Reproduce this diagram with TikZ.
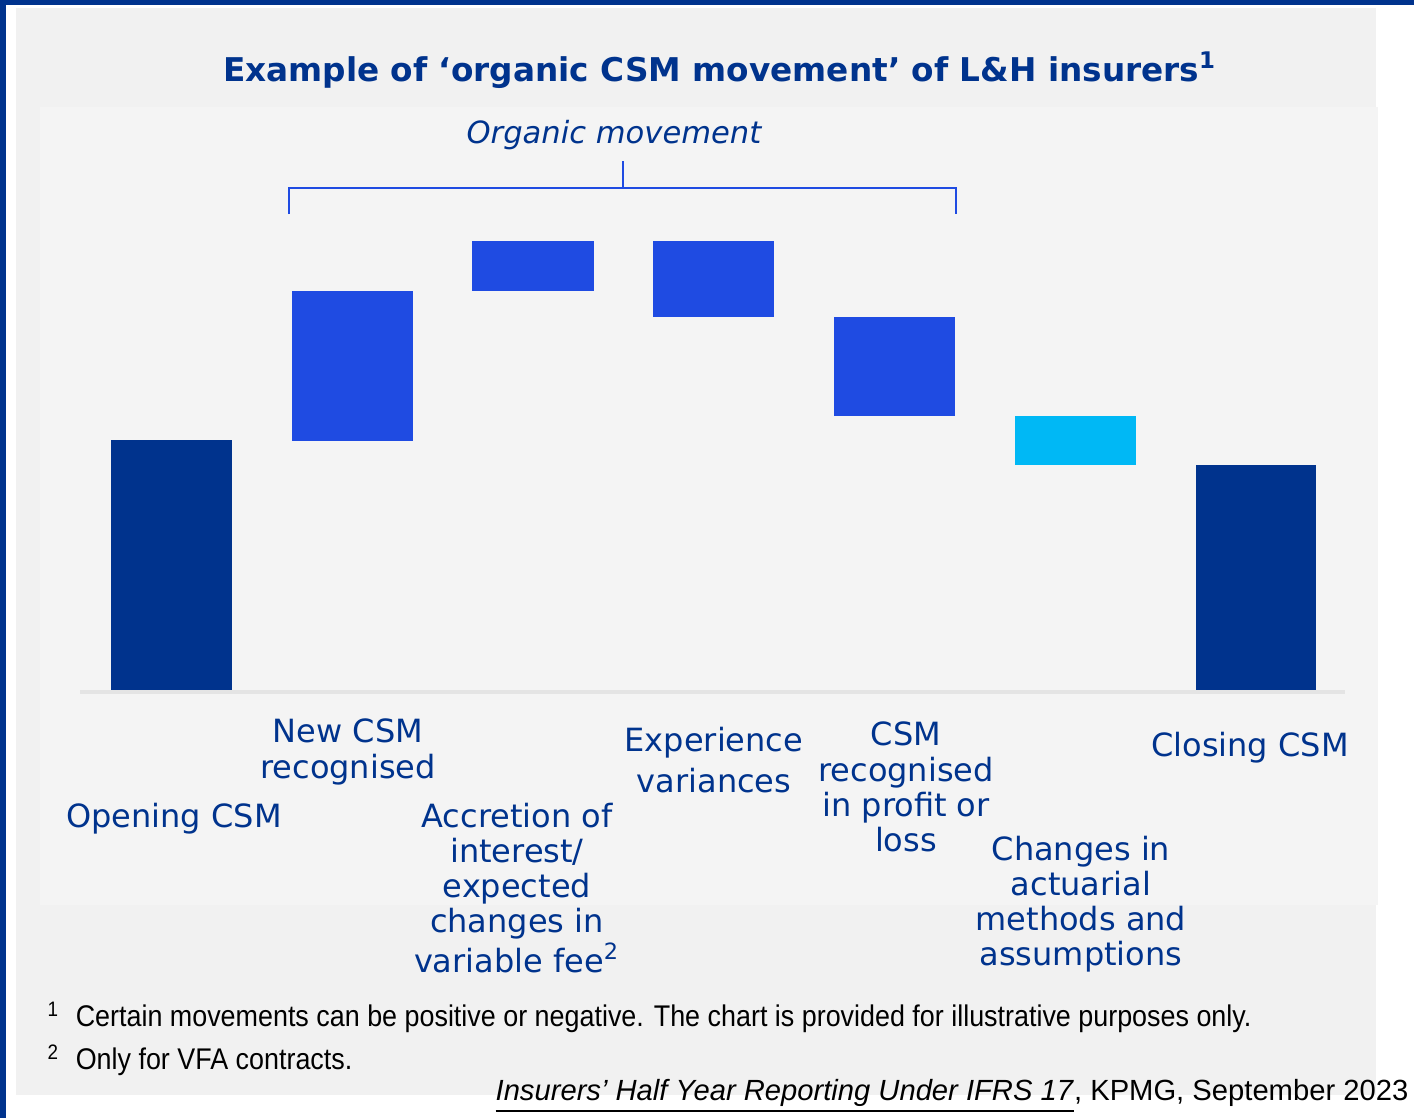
\documentclass[tikz,border=0pt]{standalone}
\usepackage{fontspec}
\setmainfont{DejaVu Sans}
\newfontfamily\notefont[FakeStretch=0.9]{Liberation Sans}
\newfontfamily\srcfont{Liberation Sans}
\usetikzlibrary{positioning}
\definecolor{csmnavy}{RGB}{0,51,141}
\definecolor{csmblue}{RGB}{31,75,226}
\definecolor{csmcyan}{RGB}{0,184,245}
\definecolor{panelgray}{RGB}{241,241,241}
\definecolor{innergray}{RGB}{244,244,244}
\definecolor{axisgray}{RGB}{228,228,228}

\begin{document}
\begin{tikzpicture}[x=0.01cm, y=-0.01cm,
  lbl/.style={align=center, text=csmnavy, inner sep=0pt, font=\fontsize{9.1}{10}\selectfont},
  note/.style={anchor=west, inner sep=0pt, font=\notefont\fontsize{8.5}{9}\selectfont}]
  \useasboundingbox (0,0) rectangle (1414,1118);
  % frame and panels
  \fill[white] (0,0) rectangle (1414,1118);
  \fill[csmnavy] (0,0) rectangle (1414,5);
  \fill[csmnavy] (0,0) rectangle (6,1118);
  \fill[panelgray] (16,8) rectangle (1376,1095);
  \fill[innergray] (40,107) rectangle (1378,905);

  \node[text=csmnavy, font=\fontsize{9.3}{12}\selectfont\bfseries] (title) at (720,70)
    {Example of ‘organic CSM movement’ of L\&H insurers\textsuperscript{1}};

  % bars
  \draw[axisgray, line width=1.4pt] (80,692) -- (1345,692);
  \fill[csmnavy] (111,440) rectangle (232,690);
  \fill[csmblue] (292,291) rectangle (413,441);
  \fill[csmblue] (472,241) rectangle (594,291);
  \fill[csmblue] (653,241) rectangle (774,317);
  \fill[csmblue] (834,317) rectangle (955,416);
  \fill[csmcyan] (1015,416) rectangle (1136,465);
  \fill[csmnavy] (1196,465) rectangle (1316,690);

  % brace
  \node[text=csmnavy, inner sep=0pt, font=\fontsize{8.7}{11}\selectfont\itshape] (org) at (614,135) {Organic movement};
  \draw[csmblue, line width=0.8pt] (289,214) -- (289,188) -- (956,188) -- (956,214);
  \draw[csmblue, line width=0.8pt] (623,188) -- (623,161);

  % labels
  \node[lbl] (open) at (174,819) {Opening CSM};
  \node[lbl] (new) at (348,752) {New CSM\\recognised};
  \node[lbl] (accr) at (517,888) {Accretion of\\interest/\\expected\\changes in\\variable fee\textsuperscript{2}};
  \node[lbl, font=\fontsize{9.1}{11.5}\selectfont] (exp) at (714,760) {Experience\\variances};
  \node[lbl] (pl) at (906,787) {CSM\\recognised\\in profit or\\loss};
  \node[lbl] (act) at (1081,904) {Changes in\\actuarial\\methods and\\assumptions};
  \node[lbl] (close) at (1250,748) {Closing CSM};

  % footnotes
  \node[note] (fn1) at (47,1017) {\textsuperscript{1}\hspace{4.5pt}Certain movements can be positive or negative. The chart is provided for illustrative purposes only.};
  \node[note] (fn2) at (47,1060) {\textsuperscript{2}\hspace{4.5pt}Only for VFA contracts.};
  \node[anchor=east, inner sep=0pt, font=\srcfont\fontsize{8.3}{11}\selectfont] (src) at (1409,1096)
    {\underline{\textit{Insurers’ Half Year Reporting Under IFRS 17}}, KPMG, September 2023};
\end{tikzpicture}
\end{document}
